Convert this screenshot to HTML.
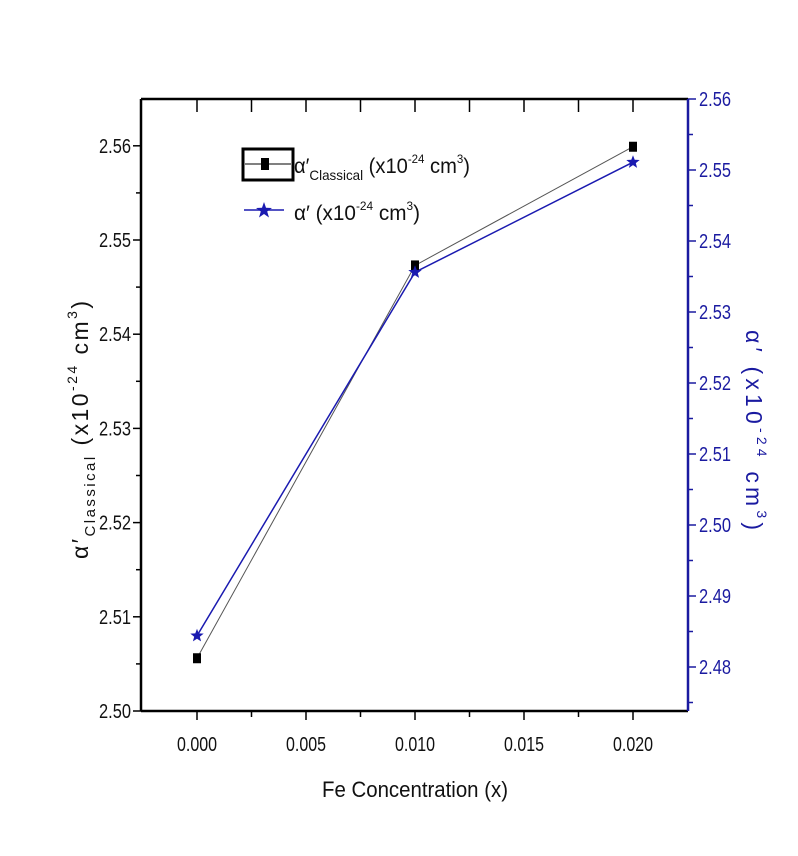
<!DOCTYPE html>
<html><head><meta charset="utf-8"><style>
body{margin:0;background:#fff}
svg text{font-family:"Liberation Sans",sans-serif}
</style></head><body>
<svg id="c" width="798" height="851" xmlns="http://www.w3.org/2000/svg">
<g id="g"></g>
<g>
<rect x="243" y="149" width="50" height="31" fill="none" stroke="#000" stroke-width="3"/>
<line x1="245" y1="164" x2="291" y2="164" stroke="#000" stroke-width="1"/>
<rect x="261" y="158" width="8" height="12" fill="#000"/>
<text x="294" y="173" font-size="21" fill="#111" textLength="176" lengthAdjust="spacingAndGlyphs">α′<tspan font-size="14" dy="7">Classical</tspan><tspan dy="-7"> (x10</tspan><tspan font-size="12" dy="-10">-24</tspan><tspan dy="10"> cm</tspan><tspan font-size="12" dy="-10">3</tspan><tspan dy="10">)</tspan></text>
<line x1="244" y1="210" x2="284" y2="210" stroke="#1a1ab0" stroke-width="1.5"/>
<polygon points="264,202 266,207.8 272,208 267.2,211.5 269,217.5 264,214 259,217.5 260.8,211.5 256,208 262,207.8" fill="#1a1ab0"/>
<text x="294" y="220" font-size="21" fill="#111" textLength="126" lengthAdjust="spacingAndGlyphs">α′ (x10<tspan font-size="12" dy="-10">-24</tspan><tspan dy="10"> cm</tspan><tspan font-size="12" dy="-10">3</tspan><tspan dy="10">)</tspan></text>
</g>
<text x="415" y="797" font-size="22" text-anchor="middle" fill="#111" textLength="186" lengthAdjust="spacingAndGlyphs">Fe Concentration (x)</text>
<text transform="translate(88,430) rotate(-90)" font-size="23" text-anchor="middle" fill="#111" textLength="258" lengthAdjust="spacing">α′<tspan font-size="15" dy="7">Classical</tspan><tspan dy="-7"> (x10</tspan><tspan font-size="14" dy="-11">-24</tspan><tspan dy="11"> cm</tspan><tspan font-size="14" dy="-11">3</tspan><tspan dy="11">)</tspan></text>
<text transform="translate(746,430) rotate(90)" font-size="23" text-anchor="middle" fill="#1a1aa0" textLength="200" lengthAdjust="spacing">α′ (x10<tspan font-size="14" dy="-11">-24</tspan><tspan dy="11"> cm</tspan><tspan font-size="14" dy="-11">3</tspan><tspan dy="11">)</tspan></text>
</svg>
<script>
const xCats=[0,0.01,0.02];
const classical=[2.5056,2.5473,2.5599];
const alphaP=[2.4844,2.5356,2.5511];
const xTicks=["0.000","0.005","0.010","0.015","0.020"];
const yLTicks=["2.50","2.51","2.52","2.53","2.54","2.55","2.56"];
const yRTicks=["2.48","2.49","2.50","2.51","2.52","2.53","2.54","2.55","2.56"];
const L=141,R=688,T=99,B=711;
const X=v=>197+(v/0.005)*109;
const YL=v=>711-(v-2.50)/0.01*94.2;
const YR=v=>99+(2.56-v)/0.01*71;
const g=document.getElementById('g');
function el(t,a,txt){const e=document.createElementNS('http://www.w3.org/2000/svg',t);for(const k in a)e.setAttribute(k,a[k]);if(txt!=null)e.textContent=txt;g.appendChild(e);return e;}
let e;
e=el('line',{x1:L,y1:T,x2:R,y2:T,stroke:'#000','stroke-width':2.5});


e=el('line',{x1:L,y1:B,x2:R,y2:B,stroke:'#000','stroke-width':2.5});


e=el('line',{x1:L,y1:T,x2:L,y2:B,stroke:'#000','stroke-width':2.5});


e=el('line',{x1:R,y1:T,x2:R,y2:B,stroke:'#1a1aa0','stroke-width':2.5});


for(let i=-1;i<=9;i++){const v=i*0.0025;const x=X(v);if(x<L+2||x>R-2)continue;
 const major=i%2===0&&i>=0;
 el('line',{x1:x,y1:B,x2:x,y2:B+(major?9:6),stroke:'#000','stroke-width':1.5});
 el('line',{x1:x,y1:T,x2:x,y2:T+13,stroke:'#000','stroke-width':1.5});
}
xTicks.forEach((t,i)=>{e=el('text',{x:X(i*0.005),y:B+40,'font-size':20,'text-anchor':'middle',fill:'#111',textLength:40,lengthAdjust:'spacingAndGlyphs'},t);
 
 });
yLTicks.forEach((t,i)=>{const v=2.50+i*0.01,y=YL(v);
 el('line',{x1:L-8,y1:y,x2:L,y2:y,stroke:'#000','stroke-width':1.5});
 if(i<yLTicks.length-1)el('line',{x1:L-5,y1:YL(v+0.005),x2:L,y2:YL(v+0.005),stroke:'#000','stroke-width':1.5});
 e=el('text',{x:L-10,y:y+7,'font-size':20,'text-anchor':'end',fill:'#111',textLength:32,lengthAdjust:'spacingAndGlyphs'},t);
 
 });
yRTicks.forEach((t,i)=>{const v=2.48+i*0.01,y=YR(v);
 el('line',{x1:R,y1:y,x2:R+8,y2:y,stroke:'#1a1aa0','stroke-width':1.5});
 const m=YR(v-0.005);if(m<B)el('line',{x1:R,y1:m,x2:R+5,y2:m,stroke:'#1a1aa0','stroke-width':1.5});
 e=el('text',{x:R+11,y:y+7,'font-size':20,fill:'#1a1aa0',textLength:32,lengthAdjust:'spacingAndGlyphs'},t);
 
 });
e=el('polyline',{points:xCats.map((v,i)=>X(v)+','+YL(classical[i])).join(' '),fill:'none',stroke:'#555','stroke-width':1});


e=el('polyline',{points:xCats.map((v,i)=>X(v)+','+YR(alphaP[i])).join(' '),fill:'none',stroke:'#1a1ab0','stroke-width':1.5});


function star(cx,cy,r){let p=[];for(let k=0;k<10;k++){const a=-Math.PI/2+k*Math.PI/5,rr=k%2?r*0.42:r;p.push((cx+rr*Math.cos(a)).toFixed(1)+','+(cy+rr*Math.sin(a)).toFixed(1));}return p.join(' ');}
xCats.forEach((v,i)=>{
 e=el('rect',{x:X(v)-4,y:YL(classical[i])-5,width:8,height:10,fill:'#000'});
 
 
 e=el('polygon',{points:star(X(v),YR(alphaP[i]),7),fill:'#1a1ab0'});
 
 
});
</script>
</body></html>
